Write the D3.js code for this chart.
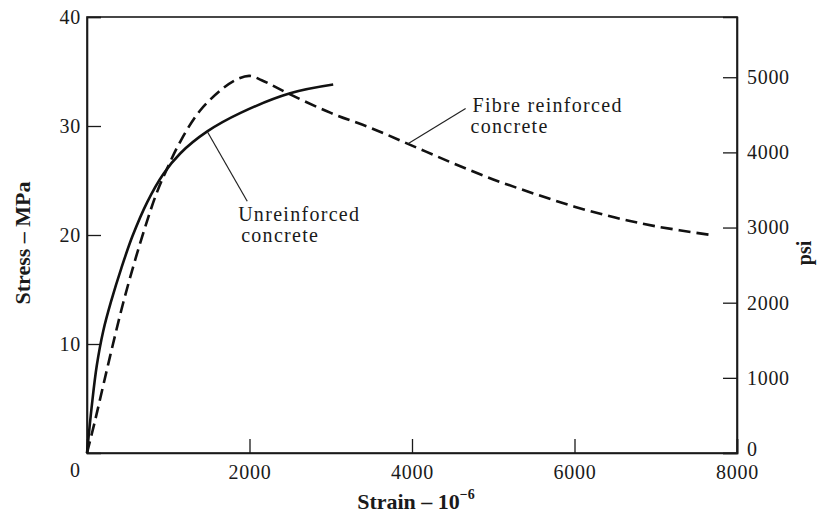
<!DOCTYPE html>
<html>
<head>
<meta charset="utf-8">
<script src="https://cdn.jsdelivr.net/npm/d3@7/dist/d3.min.js"></script>
<style>
  html, body { margin: 0; padding: 0; background: #fff; }
  svg { display: block; }
  .tick text { font-family: "Liberation Serif", "Times New Roman", serif; font-size: 20px; letter-spacing: 0.7px; fill: #1a1a1a; }
  .domain, .tick line { stroke: #1a1a1a; }
</style>
</head>
<body>
<svg id="chart" width="817" height="514"></svg>
<script>
// Stress–strain curves for plain and fibre reinforced concrete
const strainPlain = [0, 60, 120, 200, 300, 420, 560, 740, 940, 1150, 1480, 1890, 2500, 3030];
const stressPlain = [0, 4.4, 8.0, 11.2, 14.0, 16.9, 19.9, 23.0, 25.6, 27.5, 29.5, 31.2, 33.0, 33.8];

const strainFibre = [0, 100, 200, 320, 450, 600, 740, 860, 980, 1150, 1390, 1680, 1850, 2000, 2150, 2500, 3000, 3500, 4000, 4500, 5000, 5500, 6000, 6500, 7000, 7680];
const stressFibre = [0, 3.0, 6.2, 10.0, 13.9, 17.9, 21.3, 23.9, 26.0, 28.6, 31.4, 33.5, 34.3, 34.6, 34.2, 32.9, 31.2, 29.8, 28.2, 26.6, 25.1, 23.8, 22.6, 21.6, 20.8, 20.0];

const strainTicks = [2000, 4000, 6000, 8000];
const mpaTicks = [10, 20, 30, 40];
const psiTicks = [0, 1000, 2000, 3000, 4000, 5000];
const PSI_PER_MPA = 145.038;

const svg = d3.select("#chart");
const plotLeft = 87, plotRight = 737, plotTop = 17, plotBottom = 453;

const x = d3.scaleLinear().domain([0, 8000]).range([plotLeft, plotRight]);
const y = d3.scaleLinear().domain([0, 40]).range([plotBottom, plotTop]);
const yPsi = d3.scaleLinear().domain([0, 40 * PSI_PER_MPA]).range([plotBottom, plotTop]);

// frame
svg.append("rect")
  .attr("x", plotLeft).attr("y", plotTop)
  .attr("width", plotRight - plotLeft).attr("height", plotBottom - plotTop)
  .attr("fill", "none").attr("stroke", "#1a1a1a").attr("stroke-width", 1.6);

// axes with inward ticks
const gx = svg.append("g").attr("transform", `translate(0,${plotBottom})`)
  .call(d3.axisBottom(x).tickValues(strainTicks).tickSize(-14).tickPadding(12).tickFormat(d3.format("d")));
const gy = svg.append("g").attr("transform", `translate(${plotLeft},0)`)
  .call(d3.axisLeft(y).tickValues(mpaTicks).tickSize(-14).tickPadding(6).tickFormat(d3.format("d")));
const gp = svg.append("g").attr("transform", `translate(${plotRight},0)`)
  .call(d3.axisRight(yPsi).tickValues(psiTicks).tickSize(-14).tickPadding(10).tickFormat(d3.format("d")));
[gx, gy, gp].forEach(g => {
  g.select(".domain").attr("stroke-width", 1.6);
  g.selectAll(".tick line").attr("stroke-width", 1.3);
});
// lift the psi zero label clear of the 8000 strain label below it
gp.selectAll(".tick text").filter(d => d === 0).attr("dy", "0.1em");

// the "0" where the stress and strain axes meet
svg.append("text")
  .attr("x", x(0) - 12).attr("y", plotBottom + 24)
  .attr("text-anchor", "middle")
  .attr("font-family", "Liberation Serif, serif").attr("font-size", 20).attr("fill", "#1a1a1a")
  .text("0");

// curves
const line = d3.line().x(d => x(d[0])).y(d => y(d[1])).curve(d3.curveCatmullRom.alpha(0.5));
const plain = strainPlain.map((s, i) => [s, stressPlain[i]]);
const fibre = strainFibre.map((s, i) => [s, stressFibre[i]]);

svg.append("path").datum(plain).attr("d", line)
  .attr("fill", "none").attr("stroke", "#111").attr("stroke-width", 2.6);
svg.append("path").datum(fibre).attr("d", line)
  .attr("fill", "none").attr("stroke", "#111").attr("stroke-width", 2.6)
  .attr("stroke-dasharray", "12,6");

// callouts: leader line from the curve to the label
const callouts = [
  { from: [1480, 29.5], to: [1972, 23.1], text: [1860, 21.3], lines: ["Unreinforced", "concrete"], indent: [0, 3] },
  { from: [3945, 28.35], to: [4660, 31.6], text: [4745, 31.3], lines: ["Fibre reinforced", "concrete"], indent: [0, -2] }
];
callouts.forEach(c => {
  svg.append("line")
    .attr("x1", x(c.from[0])).attr("y1", y(c.from[1]))
    .attr("x2", x(c.to[0])).attr("y2", y(c.to[1]))
    .attr("stroke", "#222").attr("stroke-width", 1.2);
  c.lines.forEach((t, i) => {
    svg.append("text")
      .attr("x", x(c.text[0]) + c.indent[i]).attr("y", y(c.text[1]) + i * 21.5)
      .attr("font-family", "Liberation Serif, serif").attr("font-size", 20)
      .attr("letter-spacing", 1.3).attr("fill", "#1a1a1a")
      .text(t);
  });
});

// axis titles
const titleFont = "Liberation Serif, serif";
svg.append("text")
  .attr("transform", "translate(30,243) rotate(-90)")
  .attr("text-anchor", "middle")
  .attr("font-family", titleFont).attr("font-weight", "bold").attr("font-size", 22).attr("fill", "#1a1a1a")
  .text("Stress – MPa");

svg.append("text")
  .attr("transform", "translate(811,253) rotate(-90)")
  .attr("text-anchor", "middle")
  .attr("font-family", titleFont).attr("font-weight", "bold").attr("font-size", 20).attr("fill", "#1a1a1a")
  .text("psi");

const xt = svg.append("text")
  .attr("x", 416).attr("y", 509)
  .attr("text-anchor", "middle")
  .attr("font-family", titleFont).attr("font-weight", "bold").attr("font-size", 22).attr("fill", "#1a1a1a");
xt.append("tspan").text("Strain – 10");
xt.append("tspan").attr("font-size", 14).attr("dy", -10).text("−6");
</script>
</body>
</html>
